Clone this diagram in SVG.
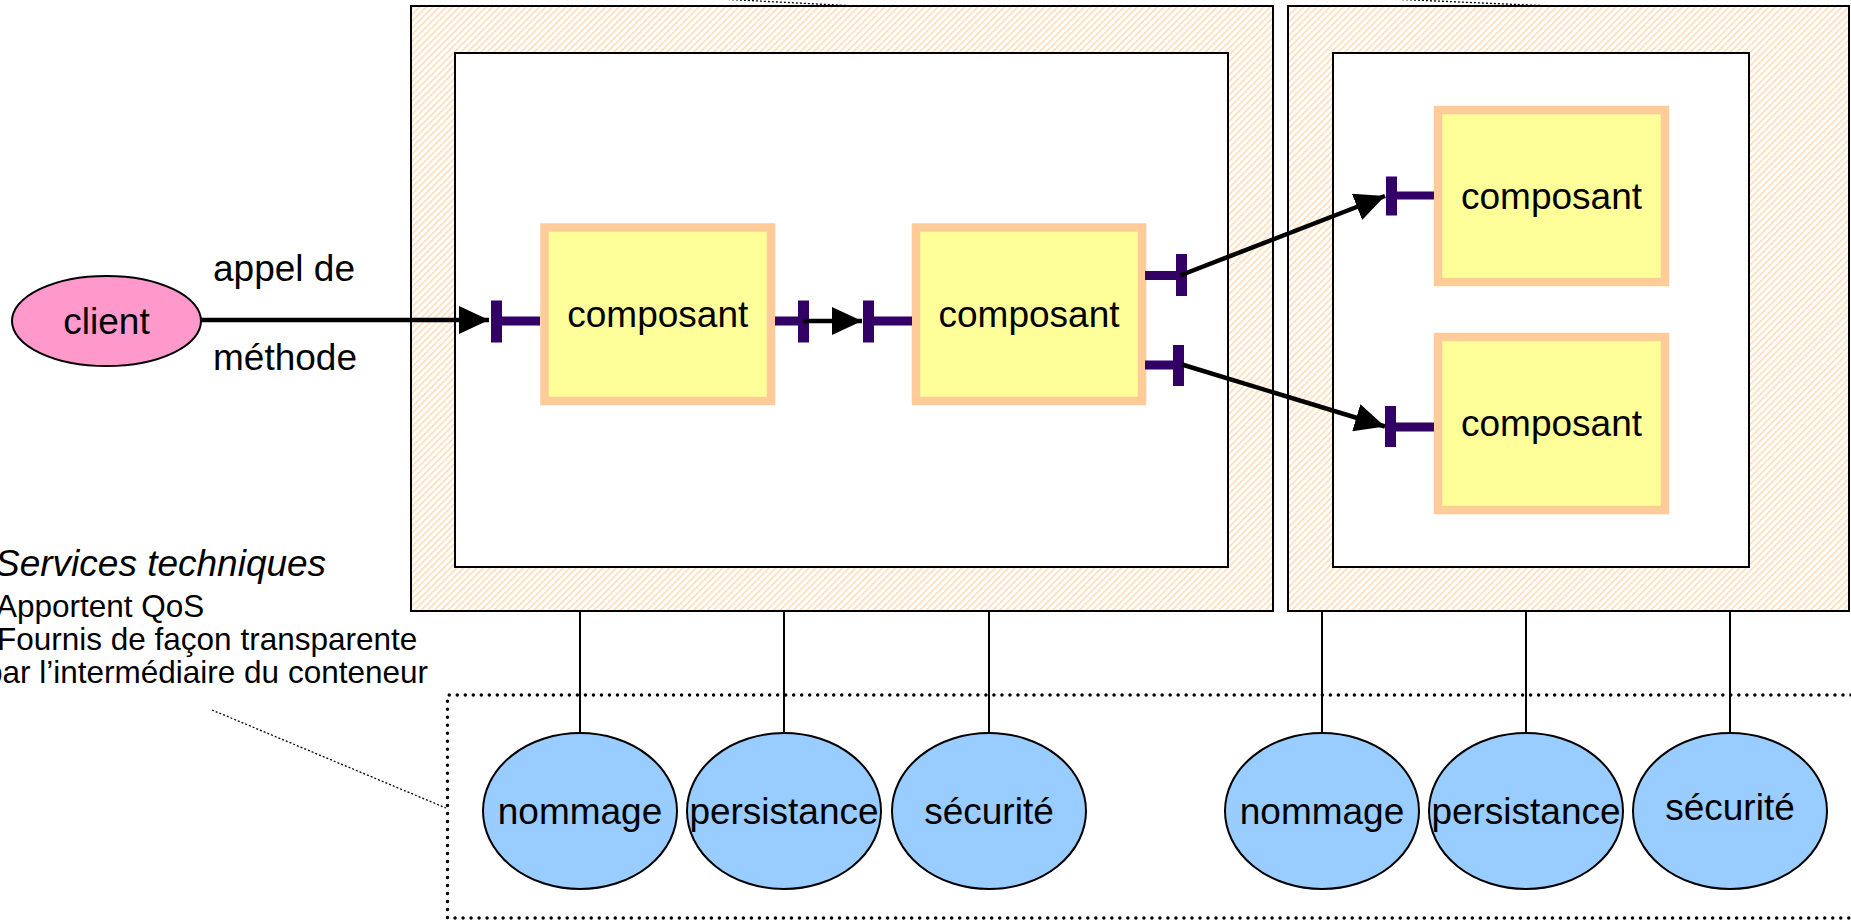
<svg xmlns="http://www.w3.org/2000/svg" width="1851" height="923" viewBox="0 0 1851 923">
<style>
text{font-family:"Liberation Sans",Arial,sans-serif;font-size:37px;fill:#000}
.outer{fill:url(#hatch);stroke:#000;stroke-width:2}
.inner{fill:#fff;stroke:#000;stroke-width:2}
.comp{fill:#FFFF99;stroke:#FFCC99;stroke-width:8.5}
.port{fill:#330066}
.svc{fill:#99CCFF;stroke:#000;stroke-width:2}
.wire{stroke:#000;stroke-width:2;fill:none}
.call{stroke:#000;stroke-width:4.5;fill:none;marker-end:url(#arrow)}
.dots{stroke:#000;stroke-width:3.5;stroke-linecap:round;stroke-dasharray:0.01 8;fill:none}
.thin{stroke:#000;stroke-width:1.3;stroke-dasharray:2 2;fill:none}
.side{font-size:31.5px}
</style>
<defs>
<pattern id="hatch" patternUnits="userSpaceOnUse" width="4.7" height="10" patternTransform="rotate(45)">
<rect x="0" y="0" width="4.7" height="10" fill="#fff"/>
<rect x="0" y="0" width="1.6" height="10" fill="#FFCC99" fill-opacity="0.7"/>
</pattern>
<marker id="arrow" markerUnits="userSpaceOnUse" markerWidth="30" markerHeight="28" viewBox="0 0 30 28" refX="30" refY="14" orient="auto">
<path d="M0,0 L30,14 L0,28 Z" fill="#000"/>
</marker>
</defs>

<g id="container1">
<rect class="outer" x="411" y="6" width="862" height="605"/>
<rect class="inner" x="455" y="53" width="773" height="514"/>
</g>
<g id="container2">
<rect class="outer" x="1288" y="6" width="561" height="605"/>
<rect class="inner" x="1333" y="53" width="416" height="514"/>
</g>

<g id="legend-leaders">
<path class="thin" d="M700,-2 L846,5.5"/>
<path class="thin" d="M1390,-1 L1540,5.5"/>
</g>

<g id="client">
<ellipse cx="106.5" cy="321" rx="94.5" ry="45" fill="#FF99CC" stroke="#000" stroke-width="2"/>
<text x="106.5" y="334" text-anchor="middle">client</text>
</g>
<g id="call-label">
<text x="213" y="281">appel de</text>
<text x="213" y="370">méthode</text>
</g>

<g id="composant1">
<rect class="comp" x="544.5" y="227.5" width="226.5" height="173.5"/>
<text x="657.75" y="327" text-anchor="middle">composant</text>
<rect class="port" x="491" y="300.5" width="11" height="42"/>
<rect class="port" x="502" y="316.5" width="38" height="9"/>
<rect class="port" x="775" y="316.5" width="28" height="9"/>
<rect class="port" x="798" y="300.5" width="11" height="42"/>
</g>
<g id="composant2">
<rect class="comp" x="916" y="227.5" width="226" height="173.5"/>
<text x="1029" y="327" text-anchor="middle">composant</text>
<rect class="port" x="863" y="300.5" width="11" height="42"/>
<rect class="port" x="874" y="316.5" width="38" height="9"/>
<rect class="port" x="1145" y="271" width="32" height="9"/>
<rect class="port" x="1176" y="254" width="11" height="42"/>
<rect class="port" x="1145" y="360.5" width="29" height="9"/>
<rect class="port" x="1173" y="345" width="11" height="41"/>
</g>
<g id="composant3">
<rect class="comp" x="1438" y="110" width="227" height="172"/>
<text x="1551.5" y="209" text-anchor="middle">composant</text>
<rect class="port" x="1386" y="176.5" width="11" height="39"/>
<rect class="port" x="1397" y="191.5" width="37" height="8"/>
</g>
<g id="composant4">
<rect class="comp" x="1438" y="337" width="227" height="173"/>
<text x="1551.5" y="436" text-anchor="middle">composant</text>
<rect class="port" x="1385" y="406" width="11" height="41"/>
<rect class="port" x="1396" y="422.5" width="38" height="9"/>
</g>

<g id="services-zone">
<path class="dots" d="M1851,695 H447.5 V918 H1851"/>
<path class="thin" d="M212,710 L446,808"/>
</g>

<g id="connectors">
<path class="call" d="M201,320 H489"/>
<path class="call" d="M803,321 H862"/>
<path class="call" d="M1180,275.5 L1385,196"/>
<path class="call" d="M1182,364.5 L1385,426.5"/>
<path class="wire" d="M580,611 V733"/>
<path class="wire" d="M784,611 V733"/>
<path class="wire" d="M989,611 V733"/>
<path class="wire" d="M1322,611 V733"/>
<path class="wire" d="M1526,611 V733"/>
<path class="wire" d="M1730,611 V733"/>
</g>

<g id="svc-nommage1"><ellipse class="svc" cx="580" cy="811" rx="97" ry="78"/><text x="580" y="824" text-anchor="middle">nommage</text></g>
<g id="svc-persistance1"><ellipse class="svc" cx="784" cy="811" rx="97" ry="78"/><text x="784" y="824" text-anchor="middle">persistance</text></g>
<g id="svc-securite1"><ellipse class="svc" cx="989" cy="811" rx="97" ry="78"/><text x="989" y="824" text-anchor="middle">sécurité</text></g>
<g id="svc-nommage2"><ellipse class="svc" cx="1322" cy="811" rx="97" ry="78"/><text x="1322" y="824" text-anchor="middle">nommage</text></g>
<g id="svc-persistance2"><ellipse class="svc" cx="1526" cy="811" rx="97" ry="78"/><text x="1526" y="824" text-anchor="middle">persistance</text></g>
<g id="svc-securite2"><ellipse class="svc" cx="1730" cy="811" rx="97" ry="78"/><text x="1730" y="820" text-anchor="middle">sécurité</text></g>

<g id="legend">
<text x="-5" y="576" font-style="italic" font-size="34">Services techniques</text>
<text class="side" x="-4" y="617">Apportent QoS</text>
<text class="side" x="-3" y="650">Fournis de façon transparente</text>
<text class="side" x="-15" y="683">par l’intermédiaire du conteneur</text>
</g>
</svg>
